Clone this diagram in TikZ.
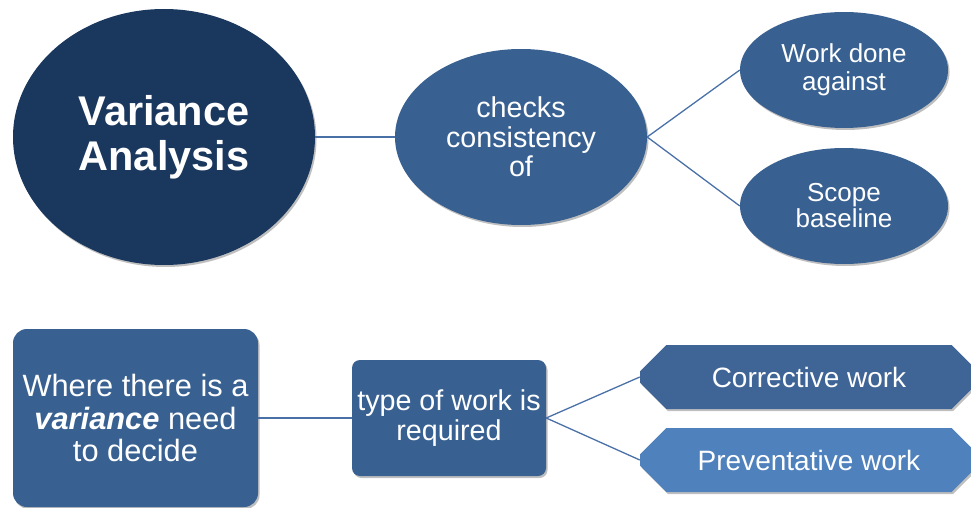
\documentclass[tikz,border=0pt]{standalone}
\usepackage{fontspec}
\setmainfont{Liberation Sans}
\usetikzlibrary{shapes.geometric,shapes.misc,shadows}
\definecolor{navy}{HTML}{1A375E}
\definecolor{midblue}{HTML}{386192}
\definecolor{corblue}{HTML}{3F6496}
\definecolor{prevblue}{HTML}{4F81BD}
\definecolor{linkblue}{HTML}{4A70A8}
\tikzset{
  x=1pt, y=-1pt,
  shade/.style={drop shadow={shadow xshift=1.5pt,shadow yshift=-2pt,opacity=0.25,fill=black}},
  oval/.style={ellipse, fill=midblue, text=white, inner sep=0pt, align=center, shade},
  box/.style={rectangle, rounded corners=#1, fill=midblue, text=white, inner sep=0pt, align=center, shade},
  chamf/.style={chamfered rectangle, chamfered rectangle xsep=15pt, chamfered rectangle ysep=16pt, chamfered rectangle corners={north west,south west,north east,south east}, fill=#1, text=white, inner sep=0pt, minimum width=338pt, minimum height=64pt, shade, font=\fontsize{28}{30}\selectfont},
  link/.style={draw=linkblue, line width=1.3pt}
}
\begin{document}
\begin{tikzpicture}
\useasboundingbox (0,0) rectangle (971,508);
\clip (0,0) rectangle (971,508);
% top row
\node[oval, fill=navy, minimum width=302pt, minimum height=256pt,
      font=\fontsize{41.5}{45}\selectfont\bfseries] (va) at (164,137) {Variance\\Analysis};
\node[oval, minimum width=252pt, minimum height=176pt,
      font=\fontsize{28.7}{29.5}\selectfont] (ck) at (521,137) {checks\\consistency\\of};
\node[oval, minimum width=208pt, minimum height=116pt,
      font=\fontsize{26}{28}\selectfont] (wd) at (844,70) {Work done\\against};
\node[oval, minimum width=208pt, minimum height=116pt,
      font=\fontsize{26}{26}\selectfont] (sb) at (844,206) {Scope\\baseline};
\draw[link] (va.east) -- (ck.west);
\draw[link] (ck.east) -- (wd.west);
\draw[link] (ck.east) -- (sb.west);
% bottom row
\node[box=14pt, minimum width=245pt, minimum height=178pt,
      font=\fontsize{30.8}{32.5}\selectfont] (wt) at (135.5,418) {Where there is a\\\textbf{\textit{variance}} need\\to decide};
\node[box=8pt, minimum width=194pt, minimum height=116pt,
      font=\fontsize{28.7}{30}\selectfont] (tw) at (449,418) {type of work is\\required};
\node[chamf=corblue] (cw) at (809,377) {Corrective work};
\node[chamf=prevblue] (pw) at (809,460) {Preventative work};
\draw[link] (wt.east) -- (tw.west);
\draw[link] (tw.east) -- (cw.west);
\draw[link] (tw.east) -- (pw.west);
\end{tikzpicture}
\end{document}
